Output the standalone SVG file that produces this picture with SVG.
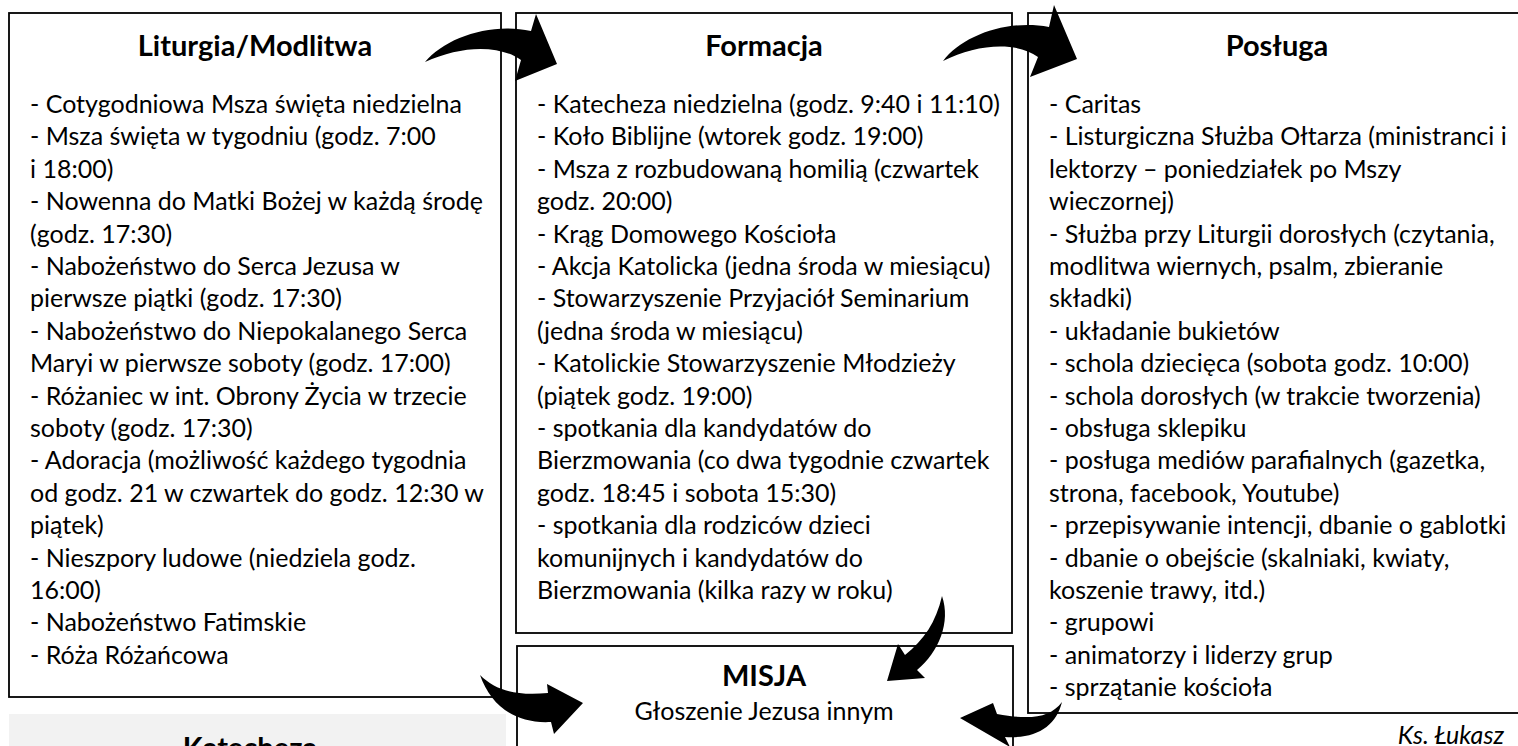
<svg xmlns="http://www.w3.org/2000/svg" width="1518" height="746" viewBox="0 0 1518 746">
<style>
.box{fill:#fff;stroke:#000;stroke-width:1.8}
.t{font-family:Lato,"Liberation Sans",sans-serif;font-size:25px;fill:#000}
.h{font-family:Lato,"Liberation Sans",sans-serif;font-weight:bold;font-size:29px;fill:#000;text-anchor:middle}
.arrow{fill:#000}
</style>
<rect width="1518" height="746" fill="#fff"/>
<g id="liturgia">
<rect class="box" x="9" y="13" width="492" height="684"/>
<text class="h" x="255" y="56">Liturgia/Modlitwa</text>
<text class="t" x="30" y="113">
<tspan x="30" dy="0">- Cotygodniowa Msza święta niedzielna</tspan>
<tspan x="30" dy="32.4">- Msza święta w tygodniu (godz. 7:00</tspan>
<tspan x="30" dy="32.4">i 18:00)</tspan>
<tspan x="30" dy="32.4">- Nowenna do Matki Bożej w każdą środę</tspan>
<tspan x="30" dy="32.4">(godz. 17:30)</tspan>
<tspan x="30" dy="32.4">- Nabożeństwo do Serca Jezusa w</tspan>
<tspan x="30" dy="32.4">pierwsze piątki (godz. 17:30)</tspan>
<tspan x="30" dy="32.4">- Nabożeństwo do Niepokalanego Serca</tspan>
<tspan x="30" dy="32.4">Maryi w pierwsze soboty (godz. 17:00)</tspan>
<tspan x="30" dy="32.4">- Różaniec w int. Obrony Życia w trzecie</tspan>
<tspan x="30" dy="32.4">soboty (godz. 17:30)</tspan>
<tspan x="30" dy="32.4">- Adoracja (możliwość każdego tygodnia</tspan>
<tspan x="30" dy="32.4">od godz. 21 w czwartek do godz. 12:30 w</tspan>
<tspan x="30" dy="32.4">piątek)</tspan>
<tspan x="30" dy="32.4">- Nieszpory ludowe (niedziela godz.</tspan>
<tspan x="30" dy="32.4">16:00)</tspan>
<tspan x="30" dy="32.4">- Nabożeństwo Fatimskie</tspan>
<tspan x="30" dy="32.4">- Róża Różańcowa</tspan>
</text>
</g>
<g id="formacja">
<rect class="box" x="516" y="13" width="496" height="620"/>
<text class="h" x="764" y="56">Formacja</text>
<text class="t" x="537" y="113">
<tspan x="537" dy="0">- Katecheza niedzielna (godz. 9:40 i 11:10)</tspan>
<tspan x="537" dy="32.4">- Koło Biblijne (wtorek godz. 19:00)</tspan>
<tspan x="537" dy="32.4">- Msza z rozbudowaną homilią (czwartek</tspan>
<tspan x="537" dy="32.4">godz. 20:00)</tspan>
<tspan x="537" dy="32.4">- Krąg Domowego Kościoła</tspan>
<tspan x="537" dy="32.4">- Akcja Katolicka (jedna środa w miesiącu)</tspan>
<tspan x="537" dy="32.4">- Stowarzyszenie Przyjaciół Seminarium</tspan>
<tspan x="537" dy="32.4">(jedna środa w miesiącu)</tspan>
<tspan x="537" dy="32.4">- Katolickie Stowarzyszenie Młodzieży</tspan>
<tspan x="537" dy="32.4">(piątek godz. 19:00)</tspan>
<tspan x="537" dy="32.4">- spotkania dla kandydatów do</tspan>
<tspan x="537" dy="32.4">Bierzmowania (co dwa tygodnie czwartek</tspan>
<tspan x="537" dy="32.4">godz. 18:45 i sobota 15:30)</tspan>
<tspan x="537" dy="32.4">- spotkania dla rodziców dzieci</tspan>
<tspan x="537" dy="32.4">komunijnych i kandydatów do</tspan>
<tspan x="537" dy="32.4">Bierzmowania (kilka razy w roku)</tspan>
</text>
</g>
<g id="posluga">
<rect class="box" x="1028" y="13" width="498" height="700"/>
<text class="h" x="1277" y="56">Posługa</text>
<text class="t" x="1049" y="113">
<tspan x="1049" dy="0">- Caritas</tspan>
<tspan x="1049" dy="32.4">- Listurgiczna Służba Ołtarza (ministranci i</tspan>
<tspan x="1049" dy="32.4">lektorzy – poniedziałek po Mszy</tspan>
<tspan x="1049" dy="32.4">wieczornej)</tspan>
<tspan x="1049" dy="32.4">- Służba przy Liturgii dorosłych (czytania,</tspan>
<tspan x="1049" dy="32.4">modlitwa wiernych, psalm, zbieranie</tspan>
<tspan x="1049" dy="32.4">składki)</tspan>
<tspan x="1049" dy="32.4">- układanie bukietów</tspan>
<tspan x="1049" dy="32.4">- schola dziecięca (sobota godz. 10:00)</tspan>
<tspan x="1049" dy="32.4">- schola dorosłych (w trakcie tworzenia)</tspan>
<tspan x="1049" dy="32.4">- obsługa sklepiku</tspan>
<tspan x="1049" dy="32.4">- posługa mediów parafialnych (gazetka,</tspan>
<tspan x="1049" dy="32.4">strona, facebook, Youtube)</tspan>
<tspan x="1049" dy="32.4">- przepisywanie intencji, dbanie o gablotki</tspan>
<tspan x="1049" dy="32.4">- dbanie o obejście (skalniaki, kwiaty,</tspan>
<tspan x="1049" dy="32.4">koszenie trawy, itd.)</tspan>
<tspan x="1049" dy="32.4">- grupowi</tspan>
<tspan x="1049" dy="32.4">- animatorzy i liderzy grup</tspan>
<tspan x="1049" dy="32.4">- sprzątanie kościoła</tspan>
</text>
</g>
<g id="misja">
<rect class="box" x="517" y="646" width="496" height="120"/>
<text class="h" x="764" y="686">MISJA</text>
<text class="t" x="764" y="720" text-anchor="middle">Głoszenie Jezusa innym</text>
</g>
<g id="katecheza">
<rect x="9" y="714" width="497" height="40" fill="#f2f2f2"/>
<text class="h" x="250" y="758">Katecheza</text>
</g>
<g id="author">
<text class="t" x="1504" y="744" text-anchor="end" font-style="italic" font-size="22">Ks. Łukasz</text>
</g>
<g id="connectors">
<path class="arrow" d="M425,62 C445,38 490,22 531,31 L536,14 L557,64 L515,81 L521,60 C498,44 460,46 425,62 Z"/>
<path class="arrow" d="M943,61 C962,36 1007,19 1049,27 L1054,5 L1077,59 L1030,77 L1038,57 C1016,41 977,44 943,61 Z"/>
<path class="arrow" d="M942,596 C951,622 939,652 917,670 L925,678 L887,681 L898,644 L905,655 C924,640 936,622 942,596 Z"/>
<path class="arrow" d="M480,675 C495,690 515,696 548,693 L547,684 L583,703 L554,734 L551,722 C515,724 491,706 480,675 Z"/>
<path class="arrow" d="M1062,702 C1050,718 1030,720 997,714 L993,703 L960,718 L1010,747 L1005,737 C1037,739 1056,726 1062,702 Z"/>
</g>
</svg>
